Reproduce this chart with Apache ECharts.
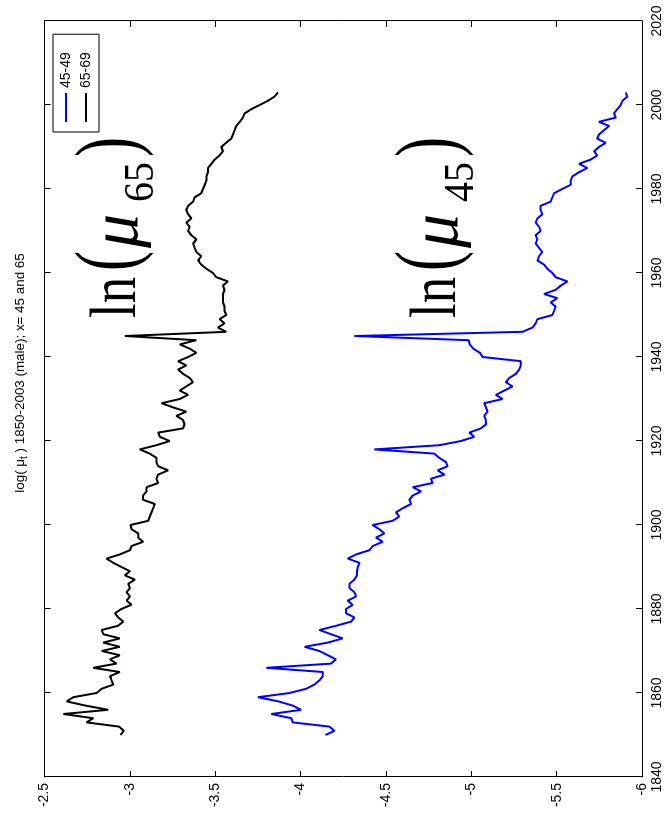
<!DOCTYPE html>
<html><head><meta charset="utf-8">
<script src="https://cdn.jsdelivr.net/npm/echarts@6/dist/echarts.min.js"></script>
<style>
html,body{margin:0;padding:0;background:#fff;overflow:hidden;width:665px;height:819px}
#chart{position:absolute;left:0;top:0;width:819px;height:665px;transform-origin:0 0;transform:translate(0px,819px) rotate(-90deg);}
</style></head><body><div id="chart"></div>
<script>
// Data (years 1850-2003), log mortality rates
const startYear = 1850;
const seriesNames = ['45-49', '65-69'];
const yearTicks = [1840, 1860, 1880, 1900, 1920, 1940, 1960, 1980, 2000, 2020];
const valueTicks = [-6, -5.5, -5, -4.5, -4, -3.5, -3, -2.5];
const age45 = [
-4.146,-4.198,-4.169,-3.954,-3.945,-3.828,-4.003,-3.954,-3.87,-3.75,
-3.935,-4.032,-4.08,-4.11,-4.13,-4.13,-3.799,-4.178,-4.207,-4.159,
-4.11,-4.023,-4.159,-4.247,-4.178,-4.11,-4.207,-4.296,-4.315,-4.266,
-4.266,-4.305,-4.276,-4.325,-4.315,-4.286,-4.286,-4.315,-4.33,-4.33,
-4.335,-4.345,-4.276,-4.325,-4.403,-4.423,-4.481,-4.442,-4.49,-4.461,
-4.422,-4.539,-4.578,-4.559,-4.598,-4.647,-4.637,-4.656,-4.705,-4.656,
-4.773,-4.763,-4.842,-4.803,-4.861,-4.851,-4.812,-4.783,-4.432,-4.812,
-4.939,-5.017,-4.988,-5.056,-5.086,-5.085,-5.076,-5.095,-5.086,-5.076,
-5.183,-5.144,-5.193,-5.241,-5.202,-5.222,-5.261,-5.28,-5.29,-5.29,
-5.066,-5.05,-5.011,-4.991,-4.985,-4.315,-5.3,-5.358,-5.377,-5.387,
-5.475,-5.485,-5.494,-5.465,-5.504,-5.426,-5.494,-5.524,-5.563,-5.494,
-5.475,-5.446,-5.426,-5.387,-5.397,-5.416,-5.397,-5.377,-5.387,-5.377,
-5.406,-5.397,-5.377,-5.387,-5.416,-5.406,-5.406,-5.465,-5.475,-5.485,
-5.533,-5.582,-5.582,-5.592,-5.631,-5.68,-5.631,-5.699,-5.738,-5.719,
-5.748,-5.787,-5.738,-5.748,-5.777,-5.807,-5.748,-5.846,-5.836,-5.855,
-5.875,-5.885,-5.914,-5.904
];
const age65 = [
-2.945,-2.964,-2.937,-2.746,-2.785,-2.61,-2.873,-2.74,-2.63,-2.668,
-2.805,-2.834,-2.902,-2.893,-2.883,-2.941,-2.785,-2.921,-2.883,-2.941,
-2.834,-2.941,-2.844,-2.941,-2.844,-2.834,-2.93,-2.961,-2.931,-2.912,
-2.95,-3.009,-2.98,-3.0,-2.98,-3.0,-2.99,-3.029,-2.97,-3.0,
-2.95,-2.902,-2.863,-2.941,-3.0,-3.009,-3.077,-3.048,-3.048,-3.009,
-3.003,-3.107,-3.116,-3.126,-3.136,-3.146,-3.077,-3.077,-3.097,-3.097,
-3.165,-3.155,-3.165,-3.224,-3.165,-3.155,-3.155,-3.116,-3.058,-3.155,
-3.233,-3.175,-3.165,-3.311,-3.32,-3.311,-3.272,-3.33,-3.253,-3.185,
-3.292,-3.341,-3.292,-3.33,-3.37,-3.35,-3.311,-3.282,-3.33,-3.282,
-3.341,-3.389,-3.35,-3.292,-3.389,-2.97,-3.564,-3.515,-3.554,-3.525,
-3.564,-3.554,-3.554,-3.545,-3.545,-3.545,-3.554,-3.545,-3.574,-3.506,
-3.487,-3.448,-3.418,-3.399,-3.418,-3.389,-3.379,-3.37,-3.389,-3.36,
-3.341,-3.35,-3.33,-3.36,-3.341,-3.33,-3.341,-3.37,-3.379,-3.418,
-3.428,-3.438,-3.448,-3.448,-3.457,-3.457,-3.477,-3.496,-3.525,-3.545,
-3.535,-3.564,-3.594,-3.604,-3.613,-3.623,-3.643,-3.662,-3.672,-3.711,
-3.76,-3.808,-3.847,-3.867
];
const years = age45.map((_, i) => startYear + i);
const pairs = vals => vals.map((v, i) => [years[i], v]);

const FONT = '"Liberation Sans", Arial, sans-serif';
const SERIF = '"Liberation Serif", "Times New Roman", serif';

function piece(text, x, y, font, sx) {
  return {
    type: 'text', silent: true, x: x, y: y, scaleX: sx,
    style: { text, x: 0, y: 0, font, fill: '#000', align: 'left', textAlign: 'left', verticalAlign: 'middle', textVerticalAlign: 'middle' }
  };
}
function annotation(dy, sub) {
  return [
    piece('ln', 501, 118 + dy, '66px ' + SERIF, 0.8),
    piece('(', 548, 112 + dy, '86px ' + SERIF, 0.7),
    piece('\u03bc', 571, 119 + dy, 'italic 68px ' + SERIF, 1.0),
    piece(sub, 617, 142 + dy, '42px ' + SERIF, 0.95),
    piece(')', 662, 112 + dy, '86px ' + SERIF, 0.7)
  ];
}

const axisCommon = {
  axisLine: { show: true, onZero: false, lineStyle: { color: '#000', width: 1 } },
  axisTick: { show: true, inside: true, length: 6, lineStyle: { color: '#000', width: 1 } },
  splitLine: { show: false }
};

const chart = echarts.init(document.getElementById('chart'), null, { renderer: 'canvas' });
chart.setOption({
  animation: false,
  backgroundColor: '#fff',
  grid: { left: 42, right: 21, top: 44.6, bottom: 23, containLabel: false, outerBoundsMode: 'none' },
  legend: {
    data: seriesNames,
    orient: 'vertical', left: 687, top: 53,
    icon: 'rect',
    itemWidth: 29, itemHeight: 2, itemGap: 6,
    padding: [6, 18, 6, 10],
    borderColor: '#000', borderWidth: 1, borderRadius: 0,
    backgroundColor: '#fff',
    textStyle: { fontSize: 14, lineHeight: 14, fontFamily: FONT, color: '#000' }
  },
  xAxis: [
    Object.assign({
      type: 'value', min: yearTicks[0], max: yearTicks[yearTicks.length - 1], interval: 20, position: 'bottom',
      axisLabel: { show: true, margin: 8, fontSize: 14, fontFamily: FONT, color: '#000',
        formatter: v => String(v) }
    }, axisCommon),
    Object.assign({
      type: 'value', min: yearTicks[0], max: yearTicks[yearTicks.length - 1], interval: 20, position: 'top',
      axisLabel: { show: false }
    }, axisCommon)
  ],
  yAxis: [
    Object.assign({
      type: 'value', min: valueTicks[0], max: valueTicks[valueTicks.length - 1], interval: 0.5, position: 'left',
      axisLabel: { show: true, margin: 6, fontSize: 14, fontFamily: FONT, color: '#000',
        formatter: v => String(v) }
    }, axisCommon),
    Object.assign({
      type: 'value', min: valueTicks[0], max: valueTicks[valueTicks.length - 1], interval: 0.5, position: 'right',
      axisLabel: { show: false }
    }, axisCommon)
  ],
  series: [
    { name: seriesNames[0], type: 'line', data: pairs(age45), symbol: 'none', showSymbol: false,
      color: '#0000ff', lineStyle: { color: '#0000ff', width: 2 }, xAxisIndex: 0, yAxisIndex: 0 },
    { name: seriesNames[1], type: 'line', data: pairs(age65), symbol: 'none', showSymbol: false,
      color: '#000000', lineStyle: { color: '#000000', width: 2 }, xAxisIndex: 0, yAxisIndex: 0 }
  ],
  graphic: [
    {
      type: 'text', silent: true,
      style: {
        x: 446, y: 20, align: 'center', textAlign: 'center', verticalAlign: 'middle', textVerticalAlign: 'middle',
        text: '{n|log( \u03bc}{s|t}{n| ) 1850-2003 (male); x= 45 and 65}',
        fill: '#000',
        rich: {
          n: { fontSize: 13.4, fontFamily: FONT, lineHeight: 19, verticalAlign: 'middle', fill: '#000' },
          s: { fontSize: 10, fontFamily: FONT, lineHeight: 13, verticalAlign: 'bottom', fill: '#000' }
        }
      }
    }
  ].concat(annotation(0, '65'), annotation(320, '45'))
});
</script></body></html>
